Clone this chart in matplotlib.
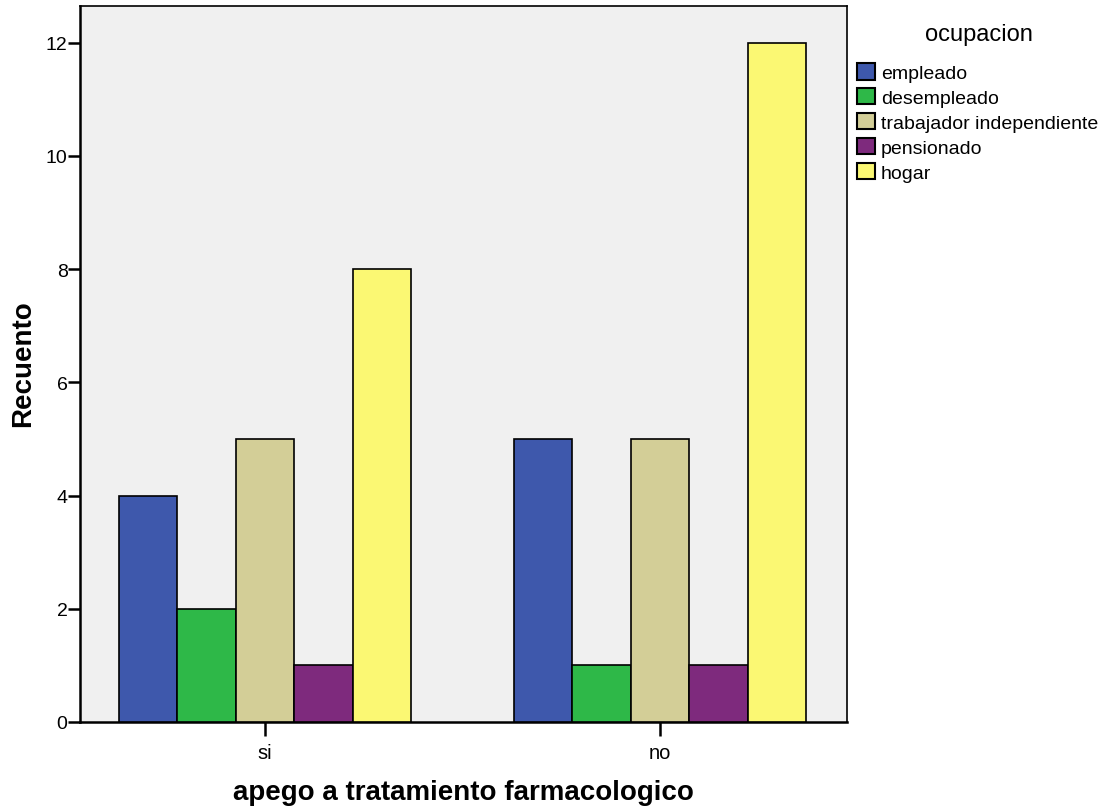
import matplotlib
matplotlib.use("Agg")
import matplotlib.pyplot as plt
from matplotlib.patches import Patch
import numpy as np

plt.rcParams['font.family'] = ['Liberation Sans', 'DejaVu Sans']

categories = ["si", "no"]
series_names = ["empleado", "desempleado", "trabajador independiente", "pensionado", "hogar"]
values = {
    "empleado": [4, 5],
    "desempleado": [2, 1],
    "trabajador independiente": [5, 5],
    "pensionado": [1, 1],
    "hogar": [8, 12],
}
colors = ["#3E58AC", "#2EB848", "#D3CE97", "#7E2A7D", "#FBF873"]
yticks = [0, 2, 4, 6, 8, 10, 12]

fig = plt.figure(figsize=(11.12, 8.12), dpi=100)
ax = fig.add_axes([80/1112, 1-723/812, (847-80)/1112, (723-7)/812])
ax.set_facecolor("#F0F0F0")

x = np.arange(len(categories))
w = 0.148
n = len(series_names)
for i, name in enumerate(series_names):
    ax.bar(x + (i - (n-1)/2)*w, values[name], width=w, color=colors[i],
           edgecolor="black", linewidth=1.2, zorder=3)

ax.set_xlim(-0.468, 1.473)
ax.set_ylim(0, 12.65)
ax.set_xticks(x)
ax.set_xticklabels(categories, fontsize=14.5)
ax.set_yticks(yticks)
ax.set_yticklabels([str(t) for t in yticks], fontsize=14)
ax.tick_params(axis='y', direction='out', length=8.5, width=1.8, pad=0.5)
ax.tick_params(axis='x', direction='out', length=10, width=1.8, pad=5)
for s in ax.spines.values():
    s.set_linewidth(1.2)
ax.spines['left'].set_linewidth(1.8)
ax.spines['bottom'].set_linewidth(1.8)

fig.text(23/1112, 1-364/812, "Recuento", fontsize=20, fontweight='bold',
         rotation=90, ha='center', va='center')
fig.text(463/1112, 1-793/812, "apego a tratamiento farmacologico", fontsize=20,
         fontweight='bold', ha='center', va='center')

fig.text(979/1112, 1-35/812, "ocupacion", fontsize=17, ha='center', va='center')
handles = [Patch(facecolor=c, edgecolor="black", linewidth=1.5) for c in colors]
leg = fig.legend(handles, series_names, loc='upper left',
                 bbox_to_anchor=(857/1112, 1-64/812), frameon=False,
                 fontsize=14, handlelength=0.93, handleheight=0.93, handletextpad=0.3,
                 labelspacing=0.31, borderaxespad=0, borderpad=0)

fig.savefig("out.png", dpi=100)
